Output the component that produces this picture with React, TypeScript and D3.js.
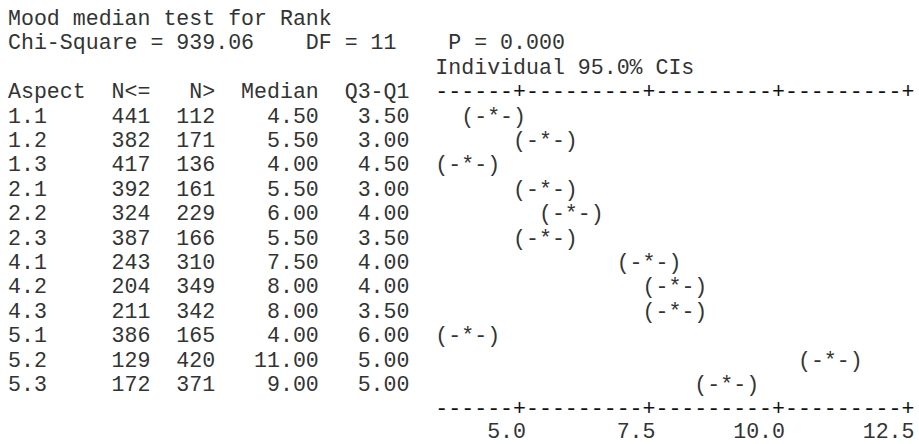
import React from 'react';
import * as d3 from 'd3';

// ---- data ----
const title = 'Mood median test for Rank';
const chiSquare = 939.06;
const dfValue = 11;
const pValue = 0.0;
const ciLabel = 'Individual 95.0% CIs';
const headers = ['Aspect', 'N<=', 'N>', 'Median', 'Q3-Q1'];
const aspects = ['1.1', '1.2', '1.3', '2.1', '2.2', '2.3', '4.1', '4.2', '4.3', '5.1', '5.2', '5.3'];
const nLE = [441, 382, 417, 392, 324, 387, 243, 204, 211, 386, 129, 172];
const nGT = [112, 171, 136, 161, 229, 166, 310, 349, 342, 165, 420, 371];
const medians = [4.5, 5.5, 4.0, 5.5, 6.0, 5.5, 7.5, 8.0, 8.0, 4.0, 11.0, 9.0];
const iqr = [3.5, 3.0, 4.5, 3.0, 4.0, 3.5, 4.0, 4.0, 3.5, 6.0, 5.0, 5.0];
const xTicks = [5.0, 7.5, 10.0, 12.5];

// ---- layout ----
const W = 919;
const H = 444;
const PITCH = 12.95;
const FS = PITCH / 0.6;
const X0 = 8;
const Y0 = 25;
const LH = 24.4;
const colX = (c: number) => X0 + c * PITCH;
const lineY = (k: number) => Y0 + k * LH;
const AXIS_START = 33;
const AXIS_END = 69;
const FILL = '#333';

export default function App() {
  const x = d3
    .scaleLinear()
    .domain([xTicks[0], xTicks[xTicks.length - 1]])
    .range([colX(39) + PITCH / 2, colX(AXIS_END) + PITCH / 2]);

  const tickCols = xTicks.map((t) => Math.round((x(t) - X0) / PITCH - 0.5));
  const axisStr = d3
    .range(AXIS_START, AXIS_END + 1)
    .map((c) => (tickCols.includes(c) ? '+' : '-'))
    .join('');

  // right edges (column after last char) of right-aligned table columns
  const colEnds = [0, 11, 16, 24, 31];

  const txt = (s: string, xPos: number, y: number, anchor = 'start', key?: string) => (
    <text key={key} x={xPos} y={y} textAnchor={anchor} xmlSpace="preserve">
      {s}
    </text>
  );

  return (
    <svg
      width={W}
      height={H}
      style={{ position: 'absolute', left: 0, top: 0, display: 'block', background: '#fff' }}
      fontFamily="'Liberation Mono', 'Courier New', monospace"
      fontSize={FS}
      fill={FILL}
    >
      {txt(title, colX(0), lineY(0))}
      {txt(`Chi-Square = ${chiSquare.toFixed(2)}`, colX(0), lineY(1))}
      {txt(`DF = ${dfValue}`, colX(23), lineY(1))}
      {txt(`P = ${pValue.toFixed(3)}`, colX(34), lineY(1))}
      {txt(ciLabel, colX(AXIS_START), lineY(2))}

      {/* header */}
      {txt(headers[0], colX(0), lineY(3))}
      {headers.slice(1).map((h, i) => txt(h, colX(colEnds[i + 1]), lineY(3), 'end', 'h' + i))}
      <text x={colX(AXIS_START)} y={lineY(3)} fill="#111">{axisStr}</text>

      {/* rows */}
      {aspects.map((a, i) => {
        const y = lineY(4 + i);
        return (
          <g key={a}>
            {txt(a, colX(0), y)}
            {txt(String(nLE[i]), colX(colEnds[1]), y, 'end')}
            {txt(String(nGT[i]), colX(colEnds[2]), y, 'end')}
            {txt(medians[i].toFixed(2), colX(colEnds[3]), y, 'end')}
            {txt(iqr[i].toFixed(2), colX(colEnds[4]), y, 'end')}
            {txt('(-*-)', x(medians[i]), y, 'middle')}
          </g>
        );
      })}

      {/* bottom axis */}
      <text x={colX(AXIS_START)} y={lineY(16)} fill="#111">{axisStr}</text>
      {xTicks.map((t) =>
        txt(t.toFixed(1), x(t) + PITCH / 2, lineY(17) - 1.5, 'end', 't' + t)
      )}
    </svg>
  );
}
